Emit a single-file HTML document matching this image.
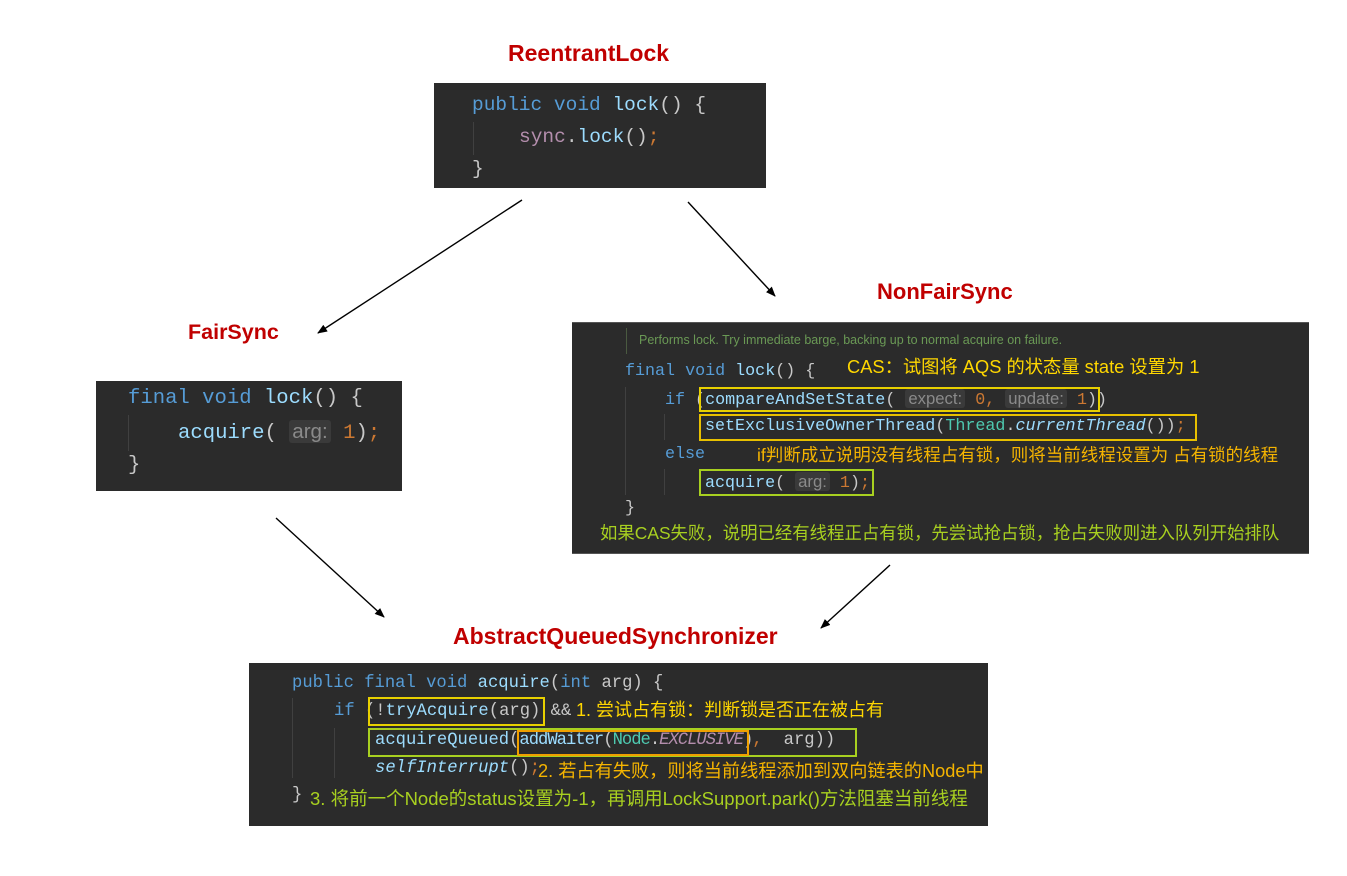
<!DOCTYPE html>
<html><head><meta charset="utf-8"><style>
body{margin:0;width:1347px;height:876px;background:#fff;position:relative;overflow:hidden;font-family:"Liberation Sans","Noto Sans CJK SC",sans-serif}
.t{position:absolute;color:#c00000;font-weight:bold;font-size:21px;white-space:nowrap}
.box{position:absolute;background:#2b2b2b}
.c{position:absolute;font-family:"Liberation Mono",monospace;white-space:nowrap;color:#c8c8c8;line-height:1}
.k{color:#569cd6}.m{color:#9cdcfe}.o{color:#cc7832}.p{color:#b48ead}.g{color:#4ec9b0}.i{font-style:italic}
.h{background:#3a3a3a;color:#8a8a8a;font-family:"Liberation Sans",sans-serif;padding:0 3px;border-radius:3px}
.n{position:absolute;white-space:nowrap;line-height:1;font-family:"Liberation Sans","Noto Sans CJK SC",sans-serif}
.r{position:absolute;border:2px solid}
.gd{position:absolute;width:1px;background:#404040}
</style></head><body>
<svg width="1347" height="876" style="position:absolute;left:0;top:0">
<defs><marker id="a" markerWidth="10" markerHeight="8" refX="9" refY="4" orient="auto" markerUnits="userSpaceOnUse"><path d="M0,0 L10,4 L0,8 z" fill="#000"/></marker></defs>
<g stroke="#000" stroke-width="1.4" marker-end="url(#a)">
<line x1="522" y1="200" x2="318" y2="333"/>
<line x1="688" y1="202" x2="775" y2="296"/>
<line x1="276" y1="518" x2="384" y2="617"/>
<line x1="890" y1="565" x2="821" y2="628"/>
</g></svg>

<div class="t" style="left:508px;top:40px;font-size:23px">ReentrantLock</div>
<div class="t" style="left:188px;top:320px;font-size:21.5px">FairSync</div>
<div class="t" style="left:877px;top:279px;font-size:22px">NonFairSync</div>
<div class="t" style="left:453px;top:623px;font-size:23px">AbstractQueuedSynchronizer</div>

<!-- top box -->
<div class="box" style="left:434px;top:83px;width:332px;height:105px"></div>
<div class="gd" style="left:473px;top:122px;height:33px"></div>
<div class="c" style="left:472px;top:96px;font-size:19.5px"><span class="k">public void </span><span class="m">lock</span>() {</div>
<div class="c" style="left:519px;top:128px;font-size:19.5px"><span class="p">sync</span>.<span class="m">lock</span>()<span class="o">;</span></div>
<div class="c" style="left:472px;top:160px;font-size:19.5px">}</div>

<!-- FairSync box -->
<div class="box" style="left:96px;top:381px;width:306px;height:110px"></div>
<div class="gd" style="left:128px;top:415px;height:36px"></div>
<div class="c" style="left:128px;top:389px;font-size:20.6px"><span class="k">final void </span><span class="m">lock</span>() {</div>
<div class="c" style="left:178px;top:422px;font-size:20.6px"><span class="m">acquire</span>( <span class="h">arg:</span> <span class="o">1</span>)<span class="o">;</span></div>
<div class="c" style="left:128px;top:456px;font-size:20.6px">}</div>

<!-- NonFairSync box -->
<div class="box" style="left:572px;top:322px;width:737px;height:232px;border-top:1px solid #555;border-bottom:1px solid #555;box-sizing:border-box"></div>
<div class="gd" style="left:626px;top:328px;height:26px;background:#4a5a40"></div>
<div class="n" style="left:639px;top:334px;font-size:12.5px;color:#6a9955">Performs lock. Try immediate barge, backing up to normal acquire on failure.</div>
<div class="c" style="left:625px;top:364px;font-size:16.7px"><span class="k">final void </span><span class="m">lock</span>() {</div>
<div class="n" style="left:847px;top:358px;font-size:18.3px;color:#ffd700">CAS：试图将 AQS 的状态量 state 设置为 1</div>
<div class="gd" style="left:625px;top:387px;height:108px"></div>
<div class="gd" style="left:664px;top:414px;height:26px"></div>
<div class="gd" style="left:664px;top:469px;height:26px"></div>
<div class="c" style="left:665px;top:391px;font-size:16.7px"><span class="k">if</span> (<span class="m">compareAndSetState</span>( <span class="h">expect:</span> <span class="o">0,</span> <span class="h">update:</span> <span class="o">1</span>))</div>
<div class="r" style="left:699px;top:387px;width:397px;height:21px;border-color:#e8d000"></div>
<div class="c" style="left:705px;top:419px;font-size:16.7px"><span class="m">setExclusiveOwnerThread</span>(<span class="g">Thread</span>.<span class="m i">currentThread</span>())<span class="o">;</span></div>
<div class="r" style="left:699px;top:414px;width:494px;height:23px;border-color:#e8c000"></div>
<div class="c" style="left:665px;top:447px;font-size:16.7px"><span class="k">else</span></div>
<div class="n" style="left:757px;top:447px;font-size:17.5px;color:#f5b400">if判断成立说明没有线程占有锁，则将当前线程设置为 占有锁的线程</div>
<div class="c" style="left:705px;top:474px;font-size:16.7px"><span class="m">acquire</span>( <span class="h">arg:</span> <span class="o">1</span>)<span class="o">;</span></div>
<div class="r" style="left:699px;top:469px;width:171px;height:23px;border-color:#a8d020"></div>
<div class="c" style="left:625px;top:501px;font-size:16.7px">}</div>
<div class="n" style="left:600px;top:525px;font-size:17.4px;color:#a8d020">如果CAS失败，说明已经有线程正占有锁，先尝试抢占锁，抢占失败则进入队列开始排队</div>

<!-- AQS box -->
<div class="box" style="left:249px;top:663px;width:739px;height:163px"></div>
<div class="gd" style="left:292px;top:698px;height:80px"></div>
<div class="gd" style="left:334px;top:728px;height:50px"></div>
<div class="c" style="left:292px;top:675px;font-size:17.2px"><span class="k">public final void </span><span class="m">acquire</span>(<span class="k">int </span>arg) {</div>
<div class="c" style="left:334px;top:703px;font-size:17.2px"><span class="k">if</span> (!<span class="m">tryAcquire</span>(arg) &amp;&amp;</div>
<div class="r" style="left:368px;top:697px;width:173px;height:25px;border-color:#e8d000"></div>
<div class="n" style="left:576px;top:701px;font-size:18px;color:#ffd700">1. 尝试占有锁：判断锁是否正在被占有</div>
<div class="c" style="left:375px;top:732px;font-size:17.2px"><span class="m">acquireQueued</span>(<span style="letter-spacing:-1px"><span class="m">addWaiter</span>(<span class="g">Node</span>.<span class="p i">EXCLUSIVE</span>)<span class="o">,</span></span><span style="padding-left:22px">arg))</span></div>
<div class="r" style="left:368px;top:728px;width:485px;height:25px;border-color:#a8d020"></div>
<div class="r" style="left:517px;top:730px;width:228px;height:22px;border-color:#f0a000"></div>
<div class="c" style="left:375px;top:760px;font-size:17.2px"><span class="m i">selfInterrupt</span>()<span class="o">;</span></div>
<div class="n" style="left:538px;top:762px;font-size:18.2px;color:#f5b400">2. 若占有失败，则将当前线程添加到双向链表的Node中</div>
<div class="c" style="left:292px;top:787px;font-size:17.2px">}</div>
<div class="n" style="left:310px;top:790px;font-size:18.5px;color:#a8d020">3. 将前一个Node的status设置为-1，再调用LockSupport.park()方法阻塞当前线程</div>
</body></html>
